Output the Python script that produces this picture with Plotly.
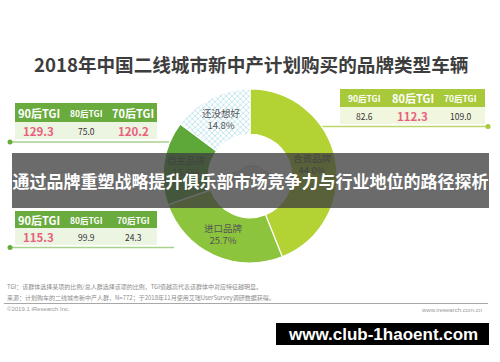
import math
import plotly.graph_objects as go

W, H = 500, 362

# ---------------- data ----------------
brand_types = ["合资品牌", "进口品牌", "自主品牌", "还没想好"]
brand_shares = [44.0, 25.7, 15.6, 14.8]
tgi_columns = ["90后TGI", "80后TGI", "70后TGI"]
tgi_joint = [82.6, 112.3, 109.0]          # 合资品牌
tgi_joint_hl = [False, True, False]
tgi_domestic = [129.3, 75.0, 120.2]       # 自主品牌
tgi_domestic_hl = [True, False, True]
tgi_import = [115.3, 99.9, 24.3]          # 进口品牌
tgi_import_hl = [True, False, False]

title_text = "2018年中国二线城市新中产计划购买的品牌类型车辆"
banner_text = "通过品牌重塑战略提升俱乐部市场竞争力与行业地位的路径探析"
note1 = "TGI：该群体选择某项的比例/总人群选择该项的比例，TGI值越高代表该群体中对应特征越明显。"
note2 = "来源：计划购车的二线城市新中产人群，N=772；于2018年11月使用艾瑞UserSurvey调研数据获得。"
copyright_text = "©2019.1 iResearch Inc."
site_text = "www.iresearch.com.cn"
watermark_text = "www.club-1haoent.com"

CJK = "Noto Sans CJK SC"
slice_colors = ["#b3d335", "#8cc43e", "#5ea83a", "#e2f5fa"]

# ---------------- figure ----------------
cx, cy, r = 250, 176, 87
fig = go.Figure()
fig.add_trace(go.Pie(
    labels=brand_types, values=brand_shares, sort=False, direction="clockwise",
    rotation=0, hole=0.48, textinfo="none", hoverinfo="skip", showlegend=False,
    marker=dict(colors=slice_colors, line=dict(color="white", width=1.2),
                pattern=dict(shape=["", "", "", "x"], fgcolor="#a6d9e8",
                             size=4, solidity=0.3)),
    domain=dict(x=[(cx - r) / W, (cx + r) / W], y=[1 - (cy + r) / H, 1 - (cy - r) / H]),
))

shapes = []
annotations = []

def ann(x, y, text, size, color, bold=False, family=CJK, xanchor="center", **kw):
    annotations.append(dict(
        x=x, y=y, xref="x", yref="y", showarrow=False, xanchor=xanchor, yanchor="middle",
        text=f"<b>{text}</b>" if bold else text,
        font=dict(family=family, size=size, color=color), **kw))

# title
ann(251, 63, title_text, 18.6, "#3d3d3d", bold=True)

# car icon inside the hole
shapes.append(dict(type="path", xref="x", yref="y", layer="below",
                   path="M 231 179 L 233 173 L 240 171 L 246 166 L 258 166 L 264 171 L 270 173 L 271 179 Z",
                   fillcolor="#e4e4e4", line=dict(color="#d0d0d0", width=1)))

# pie labels computed from data
total = sum(brand_shares)
rm = 64
cum = 0.0
for name, v in zip(brand_types, brand_shares):
    mid = (cum + v / 2) / total * 2 * math.pi
    cum += v
    lx = cx + rm * math.sin(mid)
    ly = cy - rm * math.cos(mid)
    ann(lx, ly, f"{name}<br>{v:.1f}%", 9.5, "#555555")

# tables
def table(x0, x1, yh0, yh1, yb1, head_col, body_col, values, hls, line_y, line_x0, line_x1,
          dot_x, line_col):
    shapes.append(dict(type="line", xref="x", yref="y", layer="below",
                       x0=line_x0, x1=line_x1, y0=line_y, y1=line_y,
                       line=dict(color=line_col, width=1.5)))
    shapes.append(dict(type="circle", xref="x", yref="y", layer="below",
                       x0=dot_x - 2.5, x1=dot_x + 2.5, y0=line_y - 2.5, y1=line_y + 2.5,
                       fillcolor=head_col, line=dict(width=0)))
    shapes.append(dict(type="rect", xref="x", yref="y", layer="below",
                       x0=x0, x1=x1, y0=yh0, y1=yh1, fillcolor=head_col, line=dict(width=0)))
    shapes.append(dict(type="rect", xref="x", yref="y", layer="below",
                       x0=x0, x1=x1, y0=yh1, y1=yb1, fillcolor=body_col, line=dict(width=0)))
    cw = (x1 - x0) / len(values)
    for i, (col, v, hl) in enumerate(zip(tgi_columns, values, hls)):
        xc = x0 + cw * (i + 0.5)
        ann(xc, (yh0 + yh1) / 2, col, 11 if hl else 8.5, "white", bold=True)
        ann(xc, (yh1 + yb1) / 2 + 0.5, f"{v:.1f}", 11.5 if hl else 8.5,
            "#ea5f7b" if hl else "#333333", bold=hl)

table(15, 157, 103, 122, 139, "#6aab3e", "#ecf4e2", tgi_domestic, tgi_domestic_hl,
      142, 10, 170, 10, "#a9d18e")
table(340, 485, 89, 107, 124, "#a7c93a", "#f1f6df", tgi_joint, tgi_joint_hl,
      126.5, 310, 488, 488, "#bcd66a")
table(15, 157, 211, 228, 245, "#6aab3e", "#ecf4e2", tgi_import, tgi_import_hl,
      247.5, 10, 174, 10, "#a9d18e")

# banner overlay
annotations.append(dict(
    x=250.5, y=180.5, xref="x", yref="y", showarrow=False, xanchor="center", yanchor="middle",
    width=477, height=55, bgcolor="rgba(60,60,60,0.76)", borderpad=0, borderwidth=0,
    text=f"<b>{banner_text}</b>", font=dict(family=CJK, size=17, color="white")))

# footer
ann(5, 286, note1, 6, "#8c8c8c", xanchor="left")
ann(5, 297, note2, 6, "#8c8c8c", xanchor="left")
shapes.append(dict(type="line", xref="x", yref="y", layer="above",
                   x0=4, x1=488, y0=303.5, y1=303.5, line=dict(color="#a8a8a8", width=1)))
ann(5, 309, copyright_text, 6, "#9a9a9a", family="Liberation Sans", xanchor="left")
ann(484, 310, site_text, 6, "#9a9a9a", family="Liberation Sans", xanchor="right")

# watermark box
shapes.append(dict(type="rect", xref="x", yref="y", layer="above",
                   x0=276, x1=489, y0=323, y1=345, fillcolor="black", line=dict(width=0)))
ann(383, 334, watermark_text, 17, "white", bold=True, family="Liberation Sans")

fig.update_layout(
    width=W, height=H, margin=dict(l=0, r=0, t=0, b=0),
    paper_bgcolor="white", plot_bgcolor="white",
    xaxis=dict(range=[0, W], visible=False, fixedrange=True, domain=[0, 1]),
    yaxis=dict(range=[H, 0], visible=False, fixedrange=True, domain=[0, 1]),
    shapes=shapes, annotations=annotations, showlegend=False,
)
fig.write_html("out.html")
